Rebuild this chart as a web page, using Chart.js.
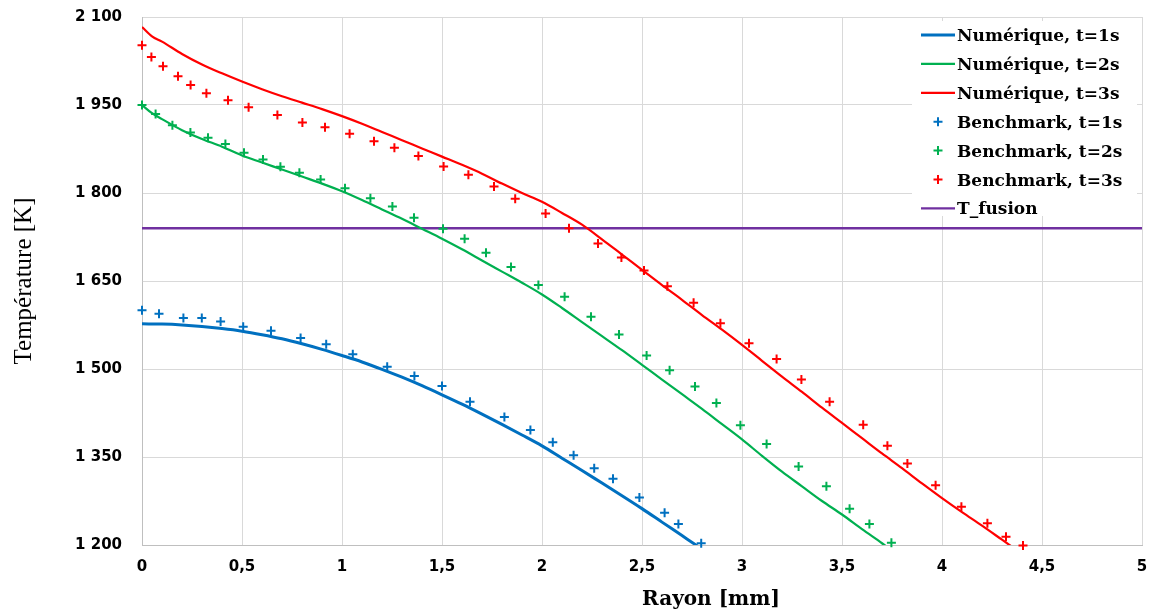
<!DOCTYPE html>
<html>
<head>
<meta charset="utf-8">
<title>Température vs Rayon</title>
<script src="https://cdn.jsdelivr.net/npm/chart.js@4.4.1/dist/chart.umd.min.js"></script>
<style>
  html, body { margin: 0; padding: 0; background: #fff; }
  #grafica { display: block; }
</style>
</head>
<body>
<canvas id="grafica" width="1155" height="613"></canvas>
<script>
// valeurs
var rayonNum1 = [0, 0.1, 0.2, 0.3, 0.4, 0.5, 0.6, 0.7, 0.8, 0.9, 1.0, 1.1, 1.2, 1.3, 1.4, 1.5, 1.6, 1.7, 1.8, 1.9, 2.0, 2.1, 2.2, 2.3, 2.4, 2.5, 2.6, 2.7, 2.8];
var tempNum1 = [1577, 1576.5, 1575, 1572.5, 1569, 1564.5, 1558.5, 1551.5, 1543, 1533.5, 1523, 1512, 1499.5, 1486, 1471.5, 1456, 1440, 1423, 1405.5, 1387.5, 1369, 1348, 1327, 1305.5, 1284, 1262, 1239, 1216, 1193];

var rayonNum2 = [0, 0.05, 0.1, 0.2, 0.3, 0.4, 0.5, 0.6, 0.7, 0.8, 0.9, 1.0, 1.1, 1.2, 1.3, 1.4, 1.5, 1.6, 1.7, 1.8, 1.9, 2.0, 2.1, 2.2, 2.3, 2.4, 2.5, 2.6, 2.7, 2.8, 2.9, 3.0, 3.1, 3.2, 3.3, 3.4, 3.5, 3.6, 3.7, 3.8];
var tempNum2 = [1950, 1936, 1926, 1907, 1892, 1879, 1864, 1852, 1840, 1828, 1816, 1803, 1788, 1772, 1756, 1739, 1722, 1704, 1685, 1666, 1647, 1627, 1604, 1580, 1556, 1532, 1507, 1482, 1457, 1432, 1406, 1380, 1352, 1325, 1300, 1275, 1252, 1227, 1203, 1178];

var rayonNum3 = [0, 0.05, 0.1, 0.2, 0.3, 0.4, 0.5, 0.6, 0.7, 0.8, 0.9, 1.0, 1.1, 1.2, 1.3, 1.4, 1.5, 1.6, 1.7, 1.8, 1.9, 2.0, 2.1, 2.2, 2.3, 2.4, 2.5, 2.6, 2.7, 2.8, 2.9, 3.0, 3.1, 3.2, 3.3, 3.4, 3.5, 3.6, 3.7, 3.8, 3.9, 4.0, 4.1, 4.2, 4.3, 4.4];
var tempNum3 = [2083, 2067, 2058, 2037, 2019, 2004, 1990, 1977, 1965, 1954, 1943, 1931, 1918, 1904, 1890, 1876, 1862, 1848, 1833, 1816, 1800, 1785, 1766, 1746, 1721, 1695, 1669, 1643, 1618, 1592, 1567, 1541, 1514, 1487, 1461, 1434, 1408, 1382, 1356, 1331, 1305, 1280, 1256, 1233, 1209, 1185];

var rayonBench1 = [0, 0.085, 0.207, 0.299, 0.393, 0.506, 0.645, 0.793, 0.921, 1.054, 1.226, 1.362, 1.50, 1.64, 1.812, 1.942, 2.054, 2.158, 2.261, 2.355, 2.487, 2.613, 2.682, 2.796];
var tempBench1 = [1600, 1594, 1587, 1587, 1581, 1572, 1565, 1553, 1542, 1525, 1504, 1488, 1471, 1444, 1418, 1396, 1375, 1353, 1331, 1313, 1281, 1255, 1236, 1203];

var rayonBench2 = [0, 0.068, 0.152, 0.242, 0.33, 0.417, 0.51, 0.605, 0.692, 0.787, 0.893, 1.015, 1.142, 1.252, 1.36, 1.505, 1.613, 1.72, 1.845, 1.982, 2.113, 2.245, 2.385, 2.523, 2.638, 2.765, 2.872, 2.992, 3.123, 3.283, 3.422, 3.538, 3.637, 3.747];
var tempBench2 = [1950, 1934.5, 1915.6, 1903, 1894, 1883.6, 1868.7, 1857, 1844.7, 1834.4, 1823, 1808, 1791, 1777, 1758, 1739, 1722, 1698, 1674, 1643, 1623, 1589, 1559, 1523, 1498, 1470, 1442, 1404, 1372, 1334, 1300, 1262, 1236, 1204];

var rayonBench3 = [0, 0.047, 0.105, 0.18, 0.243, 0.322, 0.43, 0.533, 0.677, 0.802, 0.915, 1.038, 1.16, 1.262, 1.382, 1.508, 1.632, 1.76, 1.866, 2.018, 2.135, 2.28, 2.397, 2.51, 2.627, 2.758, 2.892, 3.035, 3.173, 3.297, 3.438, 3.606, 3.727, 3.827, 3.968, 4.097, 4.227, 4.32, 4.405];
var tempBench3 = [2052, 2032, 2016, 1999, 1984, 1970, 1958, 1946, 1933, 1920, 1912, 1901, 1888, 1877, 1863, 1845, 1831, 1811, 1790, 1765, 1740, 1714, 1690, 1668, 1641, 1613, 1578, 1544, 1517, 1482, 1444, 1405, 1369, 1339, 1302, 1265, 1237, 1214, 1199];

var rayonFusion = [0, 5];
var tempFusion = [1740, 1740];

var xTickValues = [0, 0.5, 1, 1.5, 2, 2.5, 3, 3.5, 4, 4.5, 5];
var xTickLabels = ['0', '0,5', '1', '1,5', '2', '2,5', '3', '3,5', '4', '4,5', '5'];
var yTickValues = [1200, 1350, 1500, 1650, 1800, 1950, 2100];
var yTickLabels = ['1 200', '1 350', '1 500', '1 650', '1 800', '1 950', '2 100'];

var series = ['Numérique, t=1s', 'Numérique, t=2s', 'Numérique, t=3s', 'Benchmark, t=1s', 'Benchmark, t=2s', 'Benchmark, t=3s', 'T_fusion'];

var bleu = '#0070C0', vert = '#00B050', rouge = '#FF0000', violet = '#7030A0';

function points(xs, ys) {
    var res = [];
    for (var i = 0; i < Math.min(xs.length, ys.length); i++) {
        res.push({ x: xs[i], y: ys[i] });
    }
    return res;
}

function courbe(label, xs, ys, color, width) {
    return {
        label: label, data: points(xs, ys), showLine: true,
        borderColor: color, backgroundColor: color, borderWidth: width,
        pointRadius: 0, cubicInterpolationMode: 'monotone'
    };
}

function croix(label, xs, ys, color) {
    return {
        label: label, data: points(xs, ys), showLine: false,
        pointStyle: 'cross', pointRadius: 4.5, pointBorderWidth: 2,
        borderColor: color, backgroundColor: color, clip: false
    };
}

// legende dessinee dans la zone du graphique
var legendeInterne = {
    id: 'legendeInterne',
    afterDraw: function (chart) {
        var ctx = chart.ctx;
        var area = chart.chartArea;
        var bx = area.right - 230, by = area.top + 4;
        ctx.save();
        ctx.fillStyle = '#fff';
        ctx.fillRect(bx, by, 225, 195);
        ctx.font = 'bold 17px "DejaVu Serif"';
        ctx.textBaseline = 'alphabetic';
        ctx.textAlign = 'left';
        chart.data.datasets.forEach(function (ds, i) {
            var y = area.top + 18 + i * 28.9;
            ctx.strokeStyle = ds.borderColor;
            if (ds.showLine) {
                ctx.lineWidth = ds.borderWidth;
                ctx.beginPath();
                ctx.moveTo(bx + 9, y);
                ctx.lineTo(bx + 43, y);
                ctx.stroke();
            } else {
                ctx.lineWidth = 2;
                ctx.beginPath();
                ctx.moveTo(bx + 26 - 4.5, y);
                ctx.lineTo(bx + 26 + 4.5, y);
                ctx.moveTo(bx + 26, y - 4.5);
                ctx.lineTo(bx + 26, y + 4.5);
                ctx.stroke();
            }
            ctx.fillStyle = '#000';
            ctx.fillText(ds.label, bx + 45, y + 6);
        });

        // titres des axes
        ctx.fillStyle = '#000';
        ctx.textAlign = 'center';
        ctx.textBaseline = 'middle';
        ctx.font = 'bold 20px "DejaVu Serif"';
        ctx.fillText('Rayon [mm]', area.left + 0.569 * (area.right - area.left), 600);
        ctx.translate(24, (area.top + area.bottom) / 2);
        ctx.rotate(-Math.PI / 2);
        ctx.font = '25px "Liberation Serif"';
        ctx.fillText('Température [K]', 0, 0);
        ctx.restore();
    }
};

var tickFont = { family: 'DejaVu Sans', size: 15, weight: 'bold' };

var mychart = new Chart(document.getElementById('grafica'), {
    type: 'scatter',
    data: {
        datasets: [
            courbe(series[0], rayonNum1, tempNum1, bleu, 3),
            courbe(series[1], rayonNum2, tempNum2, vert, 2.2),
            courbe(series[2], rayonNum3, tempNum3, rouge, 2.2),
            croix(series[3], rayonBench1, tempBench1, bleu),
            croix(series[4], rayonBench2, tempBench2, vert),
            croix(series[5], rayonBench3, tempBench3, rouge),
            courbe(series[6], rayonFusion, tempFusion, violet, 2.4)
        ]
    },
    options: {
        responsive: false,
        animation: false,
        devicePixelRatio: 1,
        layout: { padding: { top: 17, right: 13, left: 0, bottom: 0 } },
        plugins: { legend: { display: false }, tooltip: { enabled: false } },
        scales: {
            x: {
                type: 'linear', min: 0, max: 5,
                afterBuildTicks: function (scale) {
                    scale.ticks = xTickValues.map(function (v) { return { value: v }; });
                },
                afterFit: function (scale) {
                    scale.height = 68;
                    scale.paddingLeft = 0;
                    scale.paddingRight = 0;
                },
                ticks: {
                    padding: 13, color: '#000', font: tickFont, maxRotation: 0,
                    callback: function (v, i) { return xTickLabels[i]; }
                },
                grid: { color: '#D9D9D9', drawTicks: false },
                border: { color: '#BFBFBF' }
            },
            y: {
                type: 'linear', min: 1200, max: 2100,
                afterBuildTicks: function (scale) {
                    scale.ticks = yTickValues.map(function (v) { return { value: v }; });
                },
                afterFit: function (scale) {
                    scale.width = 142;
                    scale.paddingTop = 0;
                    scale.paddingBottom = 0;
                },
                ticks: {
                    padding: 20, color: '#000', font: tickFont,
                    callback: function (v, i) { return yTickLabels[i]; }
                },
                grid: { color: '#D9D9D9', drawTicks: false },
                border: { color: '#BFBFBF' }
            }
        }
    },
    plugins: [legendeInterne]
});
</script>
</body>
</html>
